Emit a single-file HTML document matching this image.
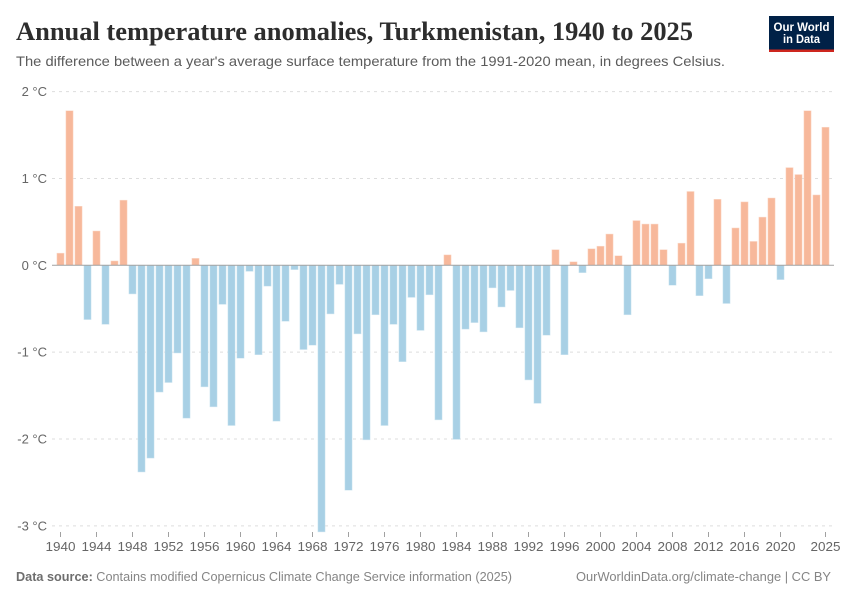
<!DOCTYPE html>
<html lang="en">
<head>
<meta charset="utf-8">
<title>Annual temperature anomalies, Turkmenistan, 1940 to 2025</title>
<style>
html,body{margin:0;padding:0;background:#fff;}
svg{display:block;}
text{font-family:"Liberation Sans",sans-serif;}
</style>
</head>
<body>
<svg id="chart" xmlns="http://www.w3.org/2000/svg" width="850" height="600" viewBox="0 0 850 600">
  <rect x="0" y="0" width="850" height="600" fill="#ffffff"/>
  <text x="16" y="40" font-size="26" font-weight="700" fill="#2d2d2d" textLength="677" lengthAdjust="spacingAndGlyphs" style="font-family:'Liberation Serif',serif">Annual temperature anomalies, Turkmenistan, 1940 to 2025</text>
  <text x="16" y="66" font-size="14" fill="#5b5b5b" textLength="709" lengthAdjust="spacingAndGlyphs">The difference between a year's average surface temperature from the 1991-2020 mean, in degrees Celsius.</text>
  <g>
    <rect x="769" y="16" width="65" height="36" fill="#002147"/>
    <rect x="769" y="49.5" width="65" height="2.5" fill="#ce261e"/>
    <text x="801.5" y="31" font-size="11.5" font-weight="700" fill="#ffffff" text-anchor="middle" textLength="56" lengthAdjust="spacingAndGlyphs">Our World</text>
    <text x="801.5" y="43" font-size="11.5" font-weight="700" fill="#ffffff" text-anchor="middle" textLength="37" lengthAdjust="spacingAndGlyphs">in Data</text>
  </g>
  <g id="grid"></g>
  <g id="yLabels"></g>
  <g id="bars"></g>
  <line id="zeroLine" stroke="#a1a1a1" stroke-width="1"/>
  <g id="xAxis"></g>
  <text x="16" y="581" font-size="13" fill="#858585" textLength="496" lengthAdjust="spacingAndGlyphs"><tspan font-weight="700" fill="#6e6e6e">Data source:</tspan> Contains modified Copernicus Climate Change Service information (2025)</text>
  <text x="576" y="581" font-size="13" fill="#858585" textLength="255" lengthAdjust="spacingAndGlyphs">OurWorldinData.org/climate-change | CC BY</text>
</svg>
<script>
var startYear = 1940;
var anomalies = [
  0.14, 1.78, 0.68, -0.625, 0.395, -0.68, 0.05, 0.75, -0.33, -2.38,
  -2.22, -1.46, -1.35, -1.01, -1.76, 0.08, -1.40, -1.63, -0.45, -1.845,
  -1.07, -0.07, -1.03, -0.24, -1.795, -0.645, -0.05, -0.97, -0.92, -3.07,
  -0.56, -0.22, -2.59, -0.79, -2.01, -0.57, -1.845, -0.68, -1.11, -0.37,
  -0.75, -0.34, -1.78, 0.12, -2.005, -0.735, -0.66, -0.767, -0.26, -0.48,
  -0.29, -0.72, -1.32, -1.59, -0.805, 0.18, -1.03, 0.04, -0.085, 0.19,
  0.22, 0.36, 0.11, -0.57, 0.515, 0.475, 0.475, 0.18, -0.23, 0.255,
  0.85, -0.35, -0.155, 0.76, -0.44, 0.43, 0.73, 0.275, 0.555, 0.775,
  -0.165, 1.125, 1.045, 1.78, 0.81, 1.59
];
var yTicks = [2, 1, 0, -1, -2, -3];
var xTicks = [1940, 1944, 1948, 1952, 1956, 1960, 1964, 1968, 1972, 1976, 1980, 1984, 1988, 1992, 1996, 2000, 2004, 2008, 2012, 2016, 2020, 2025];

var NS = 'http://www.w3.org/2000/svg';
function make(tag, attrs, parent) {
  var el = document.createElementNS(NS, tag);
  for (var k in attrs) { el.setAttribute(k, attrs[k]); }
  parent.appendChild(el);
  return el;
}
function xScale(year) { return 60.5 + (year - 1940) * 9.0; }
function yScale(v) { return 265.3 - v * 86.85; }

var gridG = document.getElementById('grid');
var yLabelG = document.getElementById('yLabels');
var barsG = document.getElementById('bars');
var xG = document.getElementById('xAxis');
var plotLeft = 52, plotRight = 834;

yTicks.forEach(function (t) {
  if (t !== 0) {
    var g = make('line', {x1: plotLeft, x2: plotRight, y1: yScale(t), y2: yScale(t), stroke: '#dddddd', 'stroke-width': 1, 'stroke-dasharray': '3,4'}, gridG);
    
    
  }
  var lab = make('text', {x: 47, y: yScale(t) + 4.5, 'font-size': 13, fill: '#666666', 'text-anchor': 'end'}, yLabelG);
  lab.textContent = t + ' °C';
  
  
});

anomalies.forEach(function (v, i) {
  var year = startYear + i;
  var yTop = Math.min(yScale(v), yScale(0));
  var h = Math.abs(yScale(v) - yScale(0));
  var r = make('rect', {x: xScale(year) - 3.6, y: yTop, width: 7.2, height: h, fill: v >= 0 ? '#f7b89b' : '#a8d0e5', stroke: v >= 0 ? '#fbdccd' : '#d4e8f2', 'stroke-width': 0.5}, barsG);
  
  
});

var zero = document.getElementById('zeroLine');
zero.setAttribute('x1', plotLeft);
zero.setAttribute('x2', plotRight);
zero.setAttribute('y1', yScale(0));
zero.setAttribute('y2', yScale(0));

xTicks.forEach(function (yr) {
  var tick = make('line', {x1: xScale(yr), x2: xScale(yr), y1: 532, y2: 537, stroke: '#a1a1a1', 'stroke-width': 1}, xG);
  
  
  var lab = make('text', {x: xScale(yr), y: 551, 'font-size': 13, fill: '#666666', 'text-anchor': 'middle', textLength: 30, lengthAdjust: 'spacingAndGlyphs'}, xG);
  lab.textContent = yr;
  
  
});
</script>
</body>
</html>
